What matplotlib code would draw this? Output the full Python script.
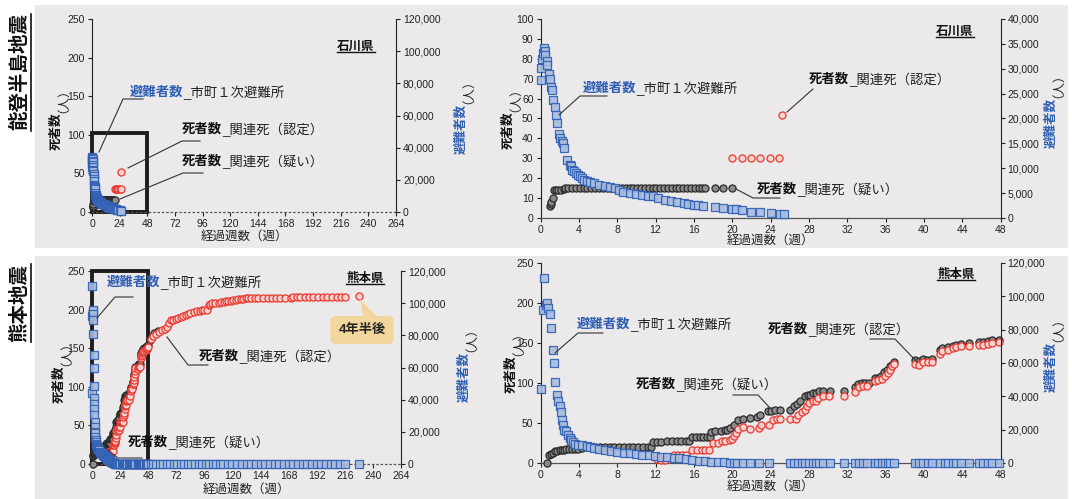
import numpy as np
import matplotlib.pyplot as plt
from matplotlib.lines import Line2D
from matplotlib.patches import Rectangle, Polygon
from matplotlib.ticker import MultipleLocator, StrMethodFormatter

plt.rcParams['font.family'] = ['Liberation Sans', 'Noto Sans CJK JP']

W, H = 1072, 499

# 石川県 (能登半島地震) 週, 人
ishi_evac_w = [0.0, 0.09, 0.12, 0.3, 0.35, 0.43, 0.52, 0.65, 0.7, 0.87, 1.0, 1.13, 1.21, 1.34, 1.47,
               1.65, 1.77, 1.9, 2.08, 2.25, 2.34, 2.47, 2.77, 3.03, 3.16, 3.33, 3.5, 3.68, 3.9, 4.11,
               4.33, 4.59, 4.9, 5.19, 5.63, 6.15, 6.71, 7.27, 7.79, 8.23, 8.66, 9.31, 9.96, 10.6, 11.17,
               11.69, 12.25, 12.99, 13.64, 14.29, 14.94, 15.37, 16.02, 16.45, 16.97, 18.18, 19.05, 20.0,
               20.35, 21.0, 22.0, 22.94, 24.03, 25.0, 25.4]
ishi_evac = [27800, 30200, 32000, 33200, 34200, 33600, 32800, 31600, 30800, 29000, 28000, 26300, 25800,
             23800, 22400, 20800, 19100, 16800, 16000, 15400, 15100, 14000, 11700, 10700, 10400, 9700,
             9400, 9000, 8700, 8400, 8000, 7700, 7400, 7200, 7000, 6700, 6500, 6200, 6000, 5700, 5200,
             5000, 4900, 4700, 4500, 4400, 4100, 3700, 3500, 3200, 3000, 2800, 2700, 2600, 2400, 2200,
             2000, 1800, 1800, 1600, 1300, 1300, 1000, 900, 900]
ishi_sus_w = [1.0, 1.07, 1.13, 1.3, 1.4, 1.6, 1.85, 2.1, 2.4, 2.6, 2.9, 3.3, 3.7, 4.1, 4.5, 4.9, 5.3,
              5.7, 6.1, 6.5, 6.9, 7.3, 7.7, 8.1, 8.5, 8.9, 9.3, 9.7, 10.1, 10.5, 10.9, 11.3, 11.7, 12.1,
              12.5, 12.9, 13.3, 13.7, 14.1, 14.5, 14.9, 15.3, 15.7, 16.1, 16.5, 16.9, 17.2, 18.2, 19.05, 20.0]
ishi_sus = [6, 7, 8, 10, 14, 14, 14, 14, 14.5, 15, 15, 15, 15, 15, 15, 15, 15, 15, 15, 15, 15, 15, 15,
            15, 15, 15, 15, 15, 15, 15, 15, 15, 15, 15, 15, 15, 15, 15, 15, 15, 15, 15, 15, 15, 15, 15,
            15, 15, 15, 15]
ishi_cert_w = [20.0, 21.0, 22.0, 22.9, 23.9, 24.9, 25.24]
ishi_cert = [30, 30, 30, 30, 30, 30, 52]

# 熊本県 (熊本地震)
kuma_evac_w = [0.1, 0.26, 0.35, 0.56, 0.7, 0.8, 1.0, 1.13, 1.3, 1.43, 1.56, 1.74, 1.87, 2.0, 2.13, 2.2,
               2.39, 2.5, 2.7, 2.87, 3.04, 3.2, 3.4, 3.6, 3.9, 4.3, 4.8, 5.2, 5.6, 6.1, 6.7, 7.4, 8.0,
               8.7, 9.3, 10.0, 10.6, 11.3, 11.9, 12.6, 13.2, 13.9, 14.5, 15.2, 15.8, 16.5, 17.2, 17.8,
               18.5, 19.1, 19.8]
kuma_evac = [44400, 92000, 110900, 95000, 96000, 93100, 89600, 81000, 67600, 60000, 48400, 41000, 37000,
             34000, 30400, 25900, 23000, 20000, 19000, 17000, 15000, 13600, 12600, 11600, 11000, 10600,
             10200, 9600, 9000, 8400, 7600, 7000, 6600, 6200, 5800, 5400, 5000, 4600, 4200, 3800, 3400,
             3200, 2800, 2400, 1800, 1400, 1000, 800, 600, 400, 200]
kuma_evac_zero_w = [20.2, 20.5, 21.1, 21.9, 22.8, 23.8, 26.0, 26.5, 26.9, 27.3, 27.6, 28.0, 28.4, 28.7,
                    29.1, 29.5, 30.2, 31.7, 32.8, 33.2, 33.7, 34.1, 34.9, 35.2, 35.6, 35.9, 36.3, 36.5,
                    36.9, 39.1, 39.5, 39.9, 40.4, 40.8, 41.7, 42.2, 42.5, 43.0, 43.4, 43.9, 44.7, 45.8,
                    46.2, 46.7, 47.1, 47.8, 50, 52, 55, 58, 61, 64, 67, 70, 73, 76, 79, 82, 85, 88, 91,
                    94, 97, 100, 103, 106, 109, 112, 116, 120, 124, 128, 132, 136, 140, 144, 148, 152,
                    156, 160, 164, 168, 172, 176, 180, 184, 188, 192, 196, 200, 204, 208, 212, 216, 228.3]
kuma_sus_w = [0.65, 0.9, 1.1, 1.3, 1.5, 1.7, 2.0, 2.2, 2.4, 2.7, 3.0, 3.3, 3.6, 3.9, 4.3, 4.8, 5.2, 5.7,
              6.2, 6.7, 7.2, 7.7, 8.2, 8.7, 9.2, 9.7, 10.2, 10.7, 11.2, 11.5, 11.7, 12.2, 12.6, 13.2,
              13.7, 14.2, 14.7, 15.2, 15.5, 15.8, 16.2, 16.6, 17.0, 17.4, 17.7, 17.8, 18.2, 18.8, 19.2,
              19.5, 19.8, 20.2, 20.6, 21.1, 21.9, 22.6, 22.9, 23.7, 24.1, 24.5, 25.0, 26.0, 26.5, 26.8,
              27.1, 27.6, 27.9, 28.1, 28.4, 28.7, 29.1, 29.5, 30.2, 31.7, 32.8, 33.1, 33.5, 33.9, 34.3,
              34.9, 35.2, 35.5, 35.8, 36.2, 36.5, 36.7, 36.9, 39.1, 39.5, 39.9, 40.3, 40.8, 41.7, 41.9,
              42.5, 43.0, 43.4, 43.9, 44.7, 45.8, 46.2, 46.7, 47.1, 47.8, 49.5, 51.0, 53.0, 56.0]
kuma_sus = [0, 10.4, 11.7, 12.5, 14.6, 15.4, 15.8, 16.7, 16.7, 17, 17.5, 17.5, 17.9, 17.9, 19, 20, 20,
            20, 20, 20, 20, 20, 20, 20, 20, 20, 20, 20, 20, 20, 25.8, 26.2, 26.7, 27, 27.5, 27.5, 27.5,
            27.5, 27.5, 32.5, 33, 33, 33, 33, 33, 38.3, 39.6, 40, 41.7, 41.7, 43.8, 47.9, 54, 55.4, 55.8,
            57, 59.6, 64.6, 65.4, 66.7, 66.7, 65.8, 70.8, 74, 77, 83.3, 84.6, 84.6, 87.5, 87.5, 90, 90,
            90, 90, 95, 99, 100, 100, 100, 105.8, 106.7, 109, 114, 116.7, 120.8, 122.9, 126.2, 128.3,
            127, 130, 129, 130, 141.7, 143.8, 144.6, 146.7, 148, 148.8, 150, 150.8, 151.7, 152.5, 153.3,
            154, 160, 166, 170, 172]
kuma_cert_w = [12.2, 12.6, 13.0, 13.9, 14.3, 14.8, 15.2, 15.8, 16.3, 16.8, 17.2, 17.6, 18.0, 18.5, 18.9,
               19.3, 19.8, 20.0, 20.2, 20.4, 20.6, 21.1, 21.9, 22.8, 23.0, 23.8, 24.3, 24.7, 25.0, 26.0,
               26.7, 26.9, 27.3, 27.6, 27.8, 28.0, 28.4, 28.7, 29.0, 29.5, 30.1, 31.7, 32.8, 33.2, 33.7,
               34.1, 34.9, 35.2, 35.6, 35.9, 36.3, 36.5, 36.7, 36.9, 39.1, 39.5, 39.9, 40.4, 40.8, 41.7,
               41.9, 42.5, 43.0, 43.4, 43.9, 44.7, 45.8, 46.2, 46.7, 47.1, 47.8, 50.3, 52, 54.5, 57,
               60.2, 62, 64.4, 66, 67.2, 69, 71.5, 73.5, 75.7, 78, 80, 82, 84, 87, 89.8, 92, 94, 96,
               98.3, 99.7, 101, 102.5, 105, 108.2, 110, 112.4, 114.5, 116.6, 118.7, 120.8, 123, 125,
               127, 129.3, 131.4, 133.5, 136, 139, 142, 146, 150, 153.4, 157, 161, 165, 170, 171.7,
               175, 178, 181.6, 185, 189, 193, 197, 201, 205, 209, 213, 216, 228.3]
kuma_cert = [5, 3.3, 4.2, 10.4, 10.4, 10.4, 10.4, 16.7, 16.7, 16.7, 16.7, 16.7, 25, 25, 27, 27, 28.3, 30,
             33.3, 37.5, 42.5, 45, 42.5, 43.8, 47.9, 47.9, 54, 55, 55, 55, 55, 60.4, 63.8, 66.7, 70.8,
             75, 77, 77, 81, 83.3, 83.3, 83.3, 88.3, 95, 96.7, 96.7, 103, 104, 105, 109, 113, 116.7,
             120.8, 123.8, 124, 123, 125.8, 126.2, 125.8, 136.7, 139.6, 140.8, 143.8, 144.6, 145.8,
             146.7, 148, 147.5, 148.8, 150, 151.7, 162.5, 166, 169, 171, 173, 175, 177.6, 182, 186,
             187, 188, 189, 190.6, 191.5, 192.7, 194, 195, 196.5, 198, 198.5, 199, 199.5, 200, 205.7,
             207, 208.7, 209, 209, 209.5, 210, 210.5, 211, 211.5, 212, 213, 213.5, 214, 214.3, 214.6,
             214.8, 214.8, 214.8, 214.8, 214.8, 214.8, 214.8, 214.8, 214.8, 214.8, 214.8, 216.5, 216.5,
             216.5, 216.5, 216.5, 216.5, 216.5, 216.5, 216.5, 216.5, 216.5, 216.5, 216.5, 217]

kuma_evac_all_w = kuma_evac_w + kuma_evac_zero_w
kuma_evac_all = kuma_evac + [0] * len(kuma_evac_zero_w)

BLUE = '#2f5fb3'
fig = plt.figure(figsize=(W / 100, H / 100), dpi=100)

# パネル背景
for (x0, y0, x1, y1) in [(35, 5, 1068, 248), (35, 256, 1068, 499)]:
    fig.patches.append(Rectangle((x0 / W, 1 - y1 / H), (x1 - x0) / W, (y1 - y0) / H,
                                 transform=fig.transFigure, fc='#ebe9ea', ec='none', zorder=-5))


def rect(l, r, t, b):
    return [l / W, 1 - b / H, (r - l) / W, (b - t) / H]


def panel(pos, xmax, xstep, ymax, ystep, y2max, y2step, ew, ev, sw, sv, cw, cv, box=None):
    ax = fig.add_axes(rect(*pos))
    ax.set_facecolor('none')
    sw, sv = np.array(sw), np.array(sv)
    cw, cv = np.array(cw), np.array(cv)
    ew, ev = np.array(ew), np.array(ev)
    m = sw <= xmax
    ax.scatter(sw[m], sv[m], s=26, marker='o', fc='#8c8c8c', ec='#2a2a2a', lw=0.9, zorder=3, clip_on=False)
    m = cw <= xmax
    ax.scatter(cw[m], cv[m], s=26, marker='o', fc='#f7d3d1', ec='#e8392f', lw=0.9, zorder=3, clip_on=False)
    ax.set_xlim(0, xmax)
    ax.set_ylim(0, ymax)
    ax.xaxis.set_major_locator(MultipleLocator(xstep))
    ax.yaxis.set_major_locator(MultipleLocator(ystep))
    ax.spines['top'].set_visible(False)
    ax.spines['right'].set_visible(False)
    ax.spines['bottom'].set_color('#555555')
    ax.spines['bottom'].set_linewidth(0.9)
    ax.spines['left'].set_color('#222222')
    ax.tick_params(labelsize=7.5, length=3, width=0.8, colors='#222222', pad=2)
    if box is not None:
        ax.spines['bottom'].set_linestyle((0, (1, 2.5)))
        ax.add_patch(Rectangle((0, 0), 48, box, fill=False, ec='#1c1c1c', lw=2.8, zorder=2, clip_on=False))
    ax2 = ax.twinx()
    m = ew <= xmax
    ax2.scatter(ew[m], ev[m], s=28, marker='s', fc='#a9bddf', ec=BLUE, lw=0.9, alpha=0.9, zorder=3, clip_on=False)
    ax2.set_ylim(0, y2max)
    ax2.yaxis.set_major_locator(MultipleLocator(y2step))
    ax2.yaxis.set_major_formatter(StrMethodFormatter('{x:,.0f}'))
    for s in ['top', 'left', 'bottom']:
        ax2.spines[s].set_visible(False)
    ax2.spines['right'].set_color('#222222')
    ax2.tick_params(labelsize=7.5, length=3, width=0.8, colors='#222222', pad=2)
    return ax, ax2


axTL, _ = panel((92, 396, 19, 212), 264, 24, 250, 50, 120000, 20000,
                ishi_evac_w, ishi_evac, ishi_sus_w, ishi_sus, ishi_cert_w, ishi_cert, box=102)
axTR, _ = panel((540.5, 1000.5, 19, 218), 48, 4, 100, 10, 40000, 5000,
                ishi_evac_w, ishi_evac, ishi_sus_w, ishi_sus, ishi_cert_w, ishi_cert)
axBL, _ = panel((92, 401, 271, 464), 264, 24, 250, 50, 120000, 20000,
                kuma_evac_all_w, kuma_evac_all, kuma_sus_w, kuma_sus, kuma_cert_w, kuma_cert, box=250)
axBR, _ = panel((540.5, 1000.5, 263, 463), 48, 4, 250, 50, 120000, 20000,
                kuma_evac_all_w, kuma_evac_all, kuma_sus_w, kuma_sus, kuma_cert_w, kuma_cert)


def ftext(x, y, s, **kw):
    return fig.text(x / W, 1 - y / H, s, **kw)


def line(pts, lw=0.8):
    fig.add_artist(Line2D([p[0] / W for p in pts], [1 - p[1] / H for p in pts],
                          transform=fig.transFigure, color='#333333', lw=lw))


FS = 9.6


def lab2(x, y, a, b, ca):
    t1 = ftext(x, y, a, ha='left', va='center', fontsize=FS, fontweight='bold', color=ca)
    t2 = fig.text(0, 0, b, ha='left', va='center', fontsize=FS, color='#222222')
    return t1, t2


def ylab(x, ybot, main, color):
    t1 = ftext(x, ybot, main, rotation=90, ha='center', va='bottom', fontsize=9,
               fontweight='bold', color=color)
    t2 = fig.text(0, 0, '（人）', rotation=90, ha='center', va='bottom', fontsize=9, color='#222222')
    return t1, t2


pairs_h = []
pairs_v = []

# 軸ラベル
for xl, yb, xr, yr, xlab_y, xc in [(57, 150, 462, 154, 237, 244),
                                   (509, 149, 1052, 148, 241, 770),
                                   (60, 403, 465, 402, 490, 246),
                                   (512, 393, 1052, 392, 487, 770)]:
    pairs_v.append(ylab(xl, yb, '死者数', '#111111'))
    pairs_v.append(ylab(xr, yr, '避難者数', BLUE))
    ftext(xc, xlab_y, '経過週数（週）', ha='center', va='center', fontsize=9, color='#222222')

# 注記
pairs_h.append(lab2(130, 93, '避難者数', '_市町１次避難所', BLUE))
pairs_h.append(lab2(182, 130, '死者数', '_関連死（認定）', '#111111'))
pairs_h.append(lab2(182, 162, '死者数', '_関連死（疑い）', '#111111'))
line([(143, 99), (123, 99), (99, 152)])
line([(200, 141), (182, 141), (128, 168)])
line([(203, 173), (183, 173), (120, 199)])

pairs_h.append(lab2(583, 89, '避難者数', '_市町１次避難所', BLUE))
pairs_h.append(lab2(809, 80, '死者数', '_関連死（認定）', '#111111'))
pairs_h.append(lab2(757, 190, '死者数', '_関連死（疑い）', '#111111'))
line([(607, 96), (580, 96), (559, 115)])
line([(813, 89), (787, 112)])
line([(736, 189), (753, 198), (780, 198)])

pairs_h.append(lab2(107, 283, '避難者数', '_市町１次避難所', BLUE))
pairs_h.append(lab2(199, 357, '死者数', '_関連死（認定）', '#111111'))
pairs_h.append(lab2(128, 443, '死者数', '_関連死（疑い）', '#111111'))
line([(133, 297), (115, 297), (97, 318)])
line([(208, 365), (188, 365), (167, 337)])
line([(142, 458), (118, 458), (108, 450)])

pairs_h.append(lab2(577, 325, '避難者数', '_市町１次避難所', BLUE))
pairs_h.append(lab2(768, 330, '死者数', '_関連死（認定）', '#111111'))
pairs_h.append(lab2(636, 385, '死者数', '_関連死（疑い）', '#111111'))
line([(603, 333), (578, 333), (555, 353)])
line([(870, 339), (895, 339), (917, 362)])
line([(733, 395), (758, 395), (770, 408)])

# 4年半後
fig.patches.append(Polygon([(360 / W, 1 - 299 / H), (364 / W, 1 - 320 / H), (380 / W, 1 - 320 / H)],
                           closed=True, transform=fig.transFigure, fc='#f3d69c', ec='none', zorder=5))
ftext(362, 330, '4年半後', ha='center', va='center', fontsize=9.5, fontweight='bold', color='#222222',
      bbox=dict(boxstyle='round,pad=0.6,rounding_size=0.4', fc='#f3d69c', ec='none'))

# 県名・地震名 (下線付き)
pref = [ftext(356, 47, '石川県', ha='center', va='center', fontsize=9, fontweight='bold', color='#111111'),
        ftext(955, 32, '石川県', ha='center', va='center', fontsize=9, fontweight='bold', color='#111111'),
        ftext(365, 279, '熊本県', ha='center', va='center', fontsize=9, fontweight='bold', color='#111111'),
        ftext(956, 275, '熊本県', ha='center', va='center', fontsize=9, fontweight='bold', color='#111111')]
side = [ftext(20, 72, '能登半島地震', rotation=90, ha='center', va='center', fontsize=14,
              fontweight='bold', color='#111111'),
        ftext(20, 303, '熊本地震', rotation=90, ha='center', va='center', fontsize=14,
              fontweight='bold', color='#111111')]

fig.canvas.draw()
r = fig.canvas.get_renderer()
for t1, t2 in pairs_h:
    bb = t1.get_window_extent(r)
    t2.set_position((bb.x1 / W, (bb.y0 + bb.y1) / 2 / H))
for t1, t2 in pairs_v:
    bb = t1.get_window_extent(r)
    t2.set_position(((bb.x0 + bb.x1) / 2 / W, bb.y1 / H))
for t in pref:
    bb = t.get_window_extent(r)
    fig.add_artist(Line2D([bb.x0 / W, bb.x1 / W], [(bb.y0 + 1) / H, (bb.y0 + 1) / H],
                          transform=fig.transFigure, color='#111111', lw=1.0))
for t in side:
    bb = t.get_window_extent(r)
    fig.add_artist(Line2D([(bb.x1 + 1) / W, (bb.x1 + 1) / W], [bb.y0 / H, bb.y1 / H],
                          transform=fig.transFigure, color='#111111', lw=1.2))

fig.savefig('out.png', dpi=100)
